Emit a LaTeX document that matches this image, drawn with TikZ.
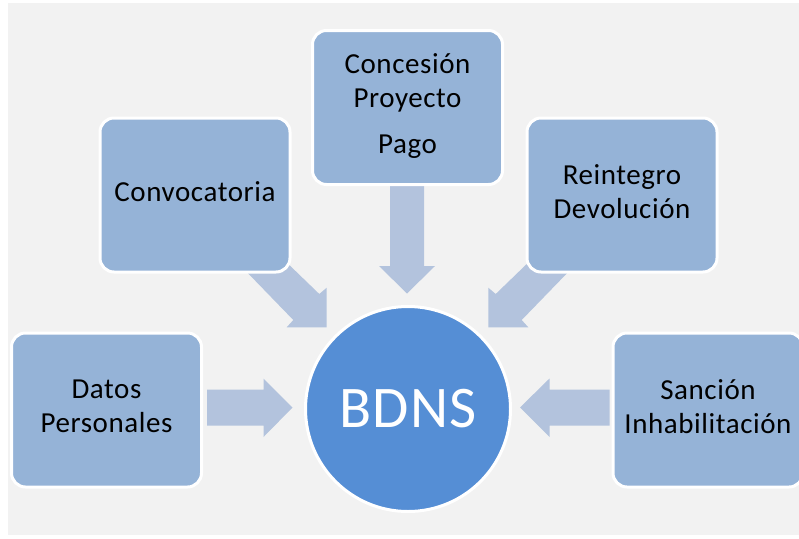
\documentclass[tikz,border=0pt]{standalone}
\usepackage{fontspec}
\setmainfont{Carlito}[LetterSpace=2]
\usetikzlibrary{backgrounds}
\definecolor{bgc}{RGB}{242,242,242}
\definecolor{boxc}{RGB}{149,179,215}
\definecolor{arrc}{RGB}{179,195,221}
\definecolor{circc}{RGB}{85,142,213}
\newcommand\lnstrut{\rule[-7.2pt]{0pt}{23pt}}
\begin{document}
\begin{tikzpicture}[x=1pt,y=-1pt,
  box/.style={draw=white, line width=3pt, fill=boxc, rounded corners=14pt,
    minimum width=190pt, minimum height=154pt, inner sep=0pt, align=center,
    font=\fontsize{29}{34}\selectfont, text=black},
  blockarrow/.style={fill=arrc, draw=none},
  hub/.style={circle, draw=white, line width=3pt, fill=circc, minimum size=205pt,
    inner sep=0pt, text=white, font=\fontsize{59}{70}\selectfont}]
\useasboundingbox (0,0) rectangle (799,538);

\node[box] (conv) at (195,195) {\lnstrut Convocatoria};
\node[box] (conc) at (407.5,107.5) {\lnstrut Concesión\\Proyecto\\[12pt]Pago\lnstrut};
\node[box] (rein) at (622,195) {\lnstrut Reintegro\\Devolución\lnstrut};
\node[box] (datos) at (106.5,410) {\lnstrut Datos\\Personales\lnstrut};
\node[box] (sanc) at (708,410) {\lnstrut Sanción\\Inhabilitación\lnstrut};
\node[hub] (bdns) at (408,409) {BDNS};

\begin{pgfonlayer}{background}
  \fill[white] (0,0) rectangle (799,538);
  \fill[bgc] (8,3) rectangle (799,535);
  % Datos -> BDNS
  \fill[blockarrow] (207,389.5) -- (263.5,389.5) -- (263.5,378.5) -- (292.5,407.5)
    -- (263.5,437) -- (263.5,425.5) -- (207,425.5) -- cycle;
  % Sancion -> BDNS
  \fill[blockarrow] (609.5,389.5) -- (549.5,389.5) -- (549.5,378.5) -- (520,407.5)
    -- (549.5,437) -- (549.5,425.5) -- (609.5,425.5) -- cycle;
  % Concesion -> BDNS
  \fill[blockarrow] (390,180) -- (424,180) -- (424,266) -- (435,266) -- (407,293.5)
    -- (379,266) -- (390,266) -- cycle;
  % Convocatoria -> BDNS
  \fill[blockarrow] (240,265) -- (293.3,320) -- (286.7,327.3) -- (326.7,327.3)
    -- (326.7,287.7) -- (319.3,294) -- (281,257) -- cycle;
  % Reintegro -> BDNS
  \fill[blockarrow] (575,265) -- (521.7,320) -- (528.3,327.3) -- (488.3,327.3)
    -- (488.3,287.7) -- (495.7,294) -- (534,257) -- cycle;
\end{pgfonlayer}
\end{tikzpicture}
\end{document}
